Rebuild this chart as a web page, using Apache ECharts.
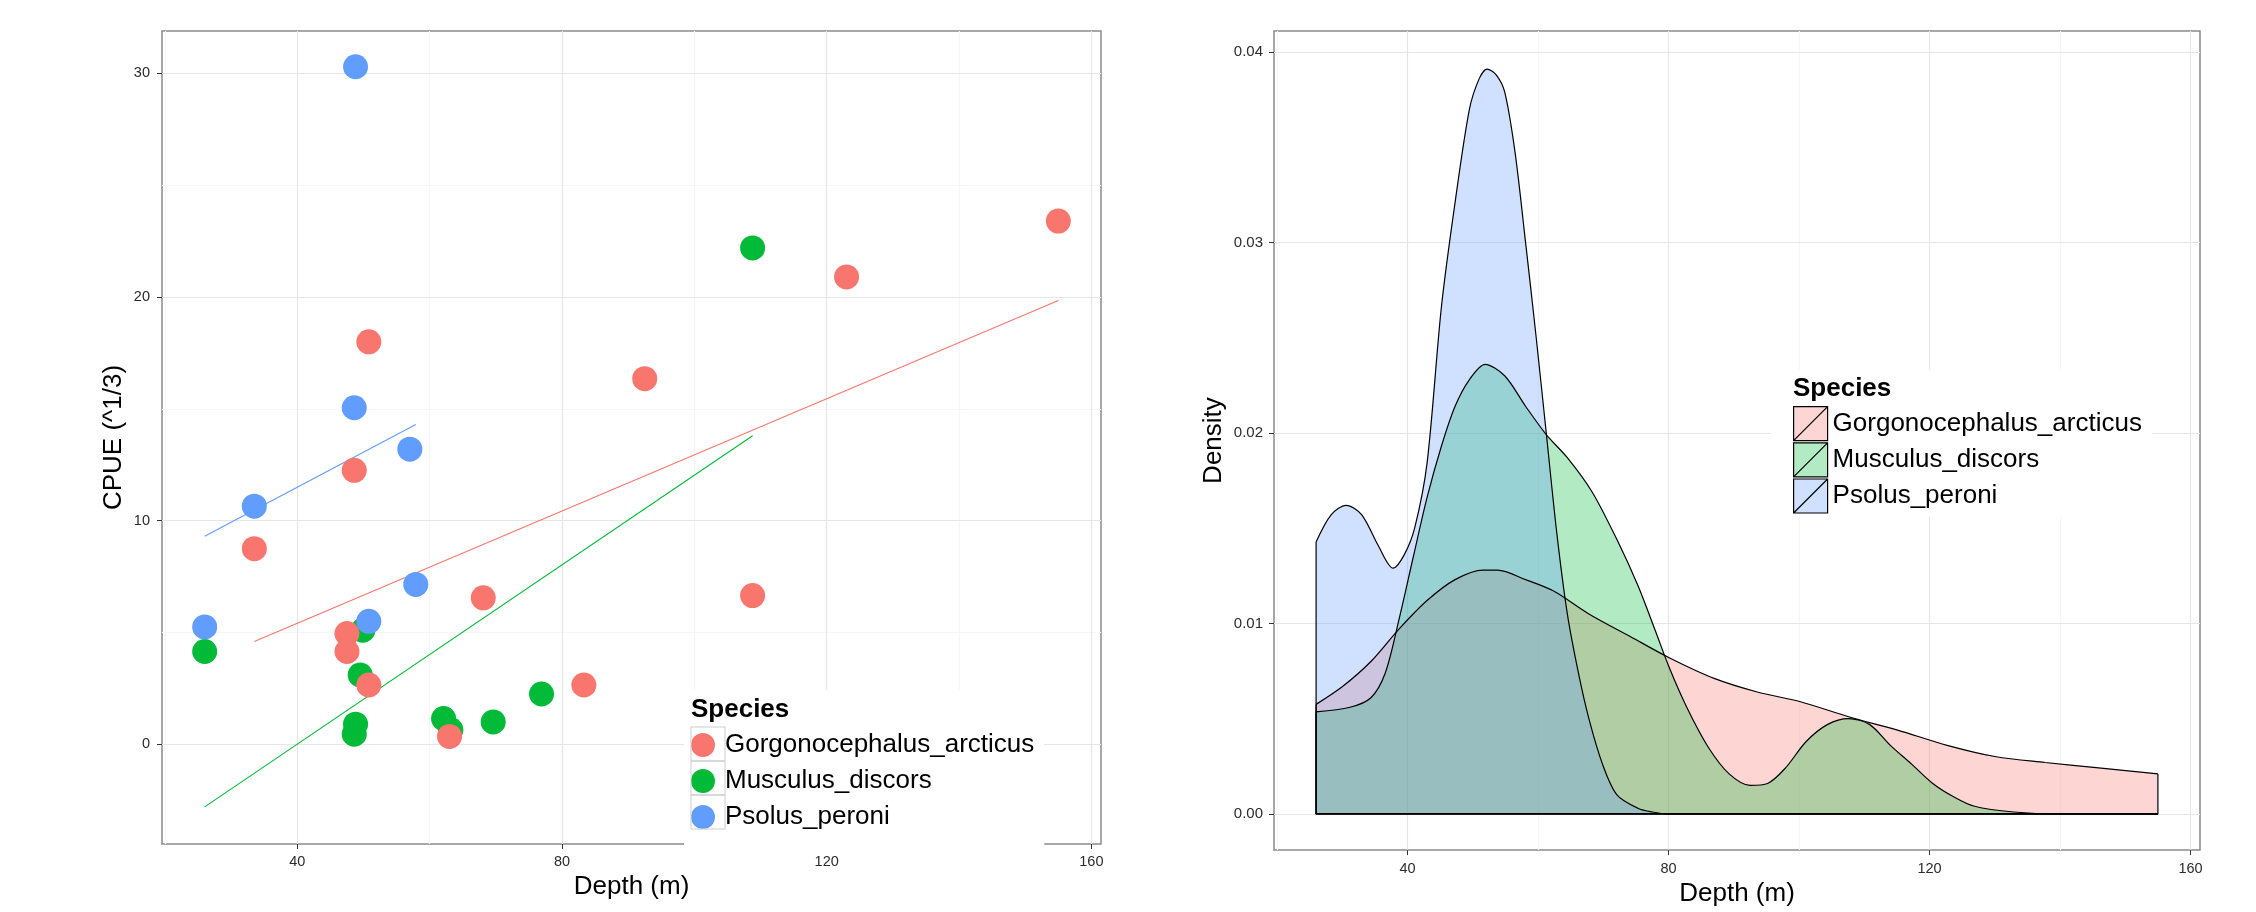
<!DOCTYPE html>
<html>
<head>
<meta charset="utf-8">
<script src="https://cdn.jsdelivr.net/npm/echarts@6/dist/echarts.min.js"></script>
<style>html,body{margin:0;padding:0;background:#fff;}#c{width:2256px;height:912px;}</style>
</head>
<body>
<div id="c"></div>
<script>
// ---------- data ----------
const species = ['Gorgonocephalus_arcticus', 'Musculus_discors', 'Psolus_peroni'];
const colors = ['#F8766D', '#00BA38', '#619CFF'];
const fills = ['rgba(248,118,109,0.3)', 'rgba(0,186,56,0.3)', 'rgba(97,156,255,0.3)'];

const depthTicks = [40, 80, 120, 160];
const depthMinor = [20, 60, 100, 140];
const cpueTicks = [0, 10, 20, 30];
const cpueMinor = [5, 15, 25];
const densityTicks = [0, 0.01, 0.02, 0.03, 0.04];
const densityMinor = [0.005, 0.015, 0.025, 0.035];

// scatter: [depth, CPUE^(1/3)]
const gorgPoints = [[155, 23.4], [123.0, 20.9], [50.8, 18.0], [92.5, 16.35], [48.6, 12.25], [33.5, 8.75],
  [68.1, 6.55], [108.8, 6.65], [47.5, 4.95], [47.5, 4.15], [50.8, 2.65], [83.3, 2.65], [63.0, 0.35]];
const muscPoints = [[108.8, 22.2], [26, 4.15], [49.9, 5.1], [49.5, 3.1], [48.8, 0.9], [48.6, 0.45],
  [62.1, 1.15], [63.2, 0.65], [69.6, 1.0], [76.9, 2.25]];
const psolPoints = [[48.8, 30.3], [48.6, 15.05], [57.0, 13.2], [33.5, 10.65], [57.9, 7.15], [26, 5.25], [50.8, 5.5]];

// linear fits (end points)
const gorgFit = [[33.5, 4.6], [155, 19.85]];
const muscFit = [[26, -2.8], [108.8, 13.8]];
const psolFit = [[26, 9.3], [57.9, 14.3]];

// density curves: [depth, density]
const gorgDensity = [[26, 0.00575], [30.1, 0.0067], [34.4, 0.0080], [38.7, 0.0097], [43.0, 0.0112],
  [47.3, 0.0123], [51.6, 0.0128], [53.8, 0.0128], [58.1, 0.0123], [62.4, 0.0117], [67.8, 0.0105],
  [74.2, 0.0093], [80.1, 0.0082], [87.1, 0.0071], [93.6, 0.0064], [100.1, 0.0059], [107.6, 0.0051],
  [115.1, 0.0044], [122.7, 0.0036], [130.2, 0.0030], [137.7, 0.0027], [146.3, 0.0024], [155, 0.0021]];
const muscDensity = [[26, 0.00536], [31.2, 0.0056], [34.4, 0.0061], [36.6, 0.0074], [38.7, 0.0102],
  [40.9, 0.0135], [43.0, 0.0166], [45.2, 0.0193], [47.3, 0.0214], [49.5, 0.0228], [51.9, 0.0236],
  [54.9, 0.0230], [58.1, 0.0214], [61.3, 0.0199], [64.5, 0.0187], [68.3, 0.0169], [72.1, 0.0144],
  [75.3, 0.0120], [78.0, 0.0096], [80.1, 0.0077], [82.8, 0.0056], [86.1, 0.0035], [89.3, 0.0021],
  [92.5, 0.0015], [95.2, 0.0016], [97.9, 0.0024], [101.1, 0.0038], [104.4, 0.0047], [107.6, 0.0050],
  [110.8, 0.0047], [114.0, 0.0036], [117.3, 0.0026], [120.5, 0.0016], [123.7, 0.0009], [126.9, 0.0004],
  [132.9, 0.0001], [140, 0], [155, 0]];
const psolDensity = [[26, 0.01428], [28.3, 0.0157], [30.6, 0.0162], [33.0, 0.0157], [35.5, 0.0141],
  [37.8, 0.0129], [39.5, 0.0136], [41.1, 0.0150], [43.0, 0.0184], [45.2, 0.0266], [47.3, 0.0321],
  [49.5, 0.0370], [51.0, 0.0386], [52.2, 0.0391], [53.6, 0.0388], [54.9, 0.0379], [56.5, 0.0347],
  [58.1, 0.0300], [59.7, 0.0251], [61.3, 0.0199], [62.9, 0.0147], [64.5, 0.0105], [66.2, 0.0074],
  [67.8, 0.0050], [69.9, 0.0026], [72.1, 0.0010], [75.3, 0.0003], [77.5, 0.0001], [80, 0], [155, 0]];

// ---------- chart ----------
const FONT = 'Liberation Sans, Arial, sans-serif';
const chart = echarts.init(document.getElementById('c'), null, {renderer: 'canvas'});

function gridLineSeries(idx, xsMajor, ysMajor, xsMinor, ysMinor) {
  const mk = (xs, ys, color) => ({
    type: 'line', xAxisIndex: idx, yAxisIndex: idx, data: [], silent: true, z: 0,
    markLine: {
      z: 0, silent: true, animation: false, symbol: ['none', 'none'], label: {show: false},
      emphasis: {disabled: true},
      lineStyle: {color: color, width: 1.2, type: 'solid'},
      data: xs.map(v => ({xAxis: v})).concat(ys.map(v => ({yAxis: v})))
    }
  });
  return [mk(xsMinor, ysMinor, '#f6f6f6'), mk(xsMajor, ysMajor, '#e6e6e6')];
}

function axisCommon(ticks, fmt, margin, fs) {
  return {
    axisLine: {show: false, onZero: false},
    splitLine: {show: false},
    axisTick: {show: true, length: 5, inside: false, customValues: ticks, lineStyle: {color: '#333', width: 1}},
    axisLabel: {show: true, customValues: ticks, formatter: fmt, margin: margin, color: '#2b2b2b',
      fontFamily: FONT, fontSize: fs}
  };
}

// polygon outline (vertical edges + baseline) of a density, built from its end points
function densityEdges(d) {
  const first = d[0], last = d[d.length - 1];
  return [[first[0], first[1]], [first[0], 0], [last[0], 0], [last[0], last[1]]];
}

function densitySeries(d, i) {
  return [
    {type: 'line', name: species[i] + ' density', xAxisIndex: 1, yAxisIndex: 1, data: d, z: 2,
      showSymbol: false, smooth: 0.3,
      lineStyle: {color: '#000', width: 1.2}, areaStyle: {color: fills[i], opacity: 1}},
    {type: 'line', name: species[i] + ' edge', xAxisIndex: 1, yAxisIndex: 1, data: densityEdges(d), z: 2,
      showSymbol: false, lineStyle: {color: '#000', width: 1.2}}
  ];
}

const option = {
  animation: false,
  backgroundColor: '#fff',
  grid: [
    {left: 162, top: 31, width: 939, height: 813, show: true, borderColor: '#8a8a8a', borderWidth: 1.5, backgroundColor: 'transparent'},
    {left: 1274, top: 31, width: 926, height: 823, show: true, borderColor: '#8a8a8a', borderWidth: 1.5, backgroundColor: 'transparent'}
  ],
  xAxis: [
    Object.assign({type: 'value', gridIndex: 0, min: 19.55, max: 161.45,
      name: 'Depth (m)', nameLocation: 'middle', nameGap: 30,
      nameTextStyle: {fontFamily: FONT, fontSize: 26, color: '#000'}},
      axisCommon(depthTicks, v => String(v), 10, 14.5)),
    Object.assign({type: 'value', gridIndex: 1, min: 19.55, max: 161.45,
      name: 'Depth (m)', nameLocation: 'middle', nameGap: 30,
      nameTextStyle: {fontFamily: FONT, fontSize: 26, color: '#000'}},
      axisCommon(depthTicks, v => String(v), 11, 14.5))
  ],
  yAxis: [
    Object.assign({type: 'value', gridIndex: 0, min: -4.46, max: 31.9,
      name: 'CPUE (^1/3)', nameLocation: 'middle', nameGap: 35, nameRotate: 90,
      nameTextStyle: {fontFamily: FONT, fontSize: 26, color: '#000'}},
      axisCommon(cpueTicks, v => String(v), 12, 14.5)),
    Object.assign({type: 'value', gridIndex: 1, min: -0.0019, max: 0.0411,
      name: 'Density', nameLocation: 'middle', nameGap: 47, nameRotate: 90,
      nameTextStyle: {fontFamily: FONT, fontSize: 26, color: '#000'}},
      axisCommon(densityTicks, v => Number(v).toFixed(2), 11, 15))
  ],
  title: [
    {text: 'Species', left: 691, top: 697, padding: 0,
      textStyle: {fontFamily: FONT, fontWeight: 'bold', fontSize: 26, color: '#000'}},
    {text: 'Species', left: 1793, top: 376, padding: 0,
      textStyle: {fontFamily: FONT, fontWeight: 'bold', fontSize: 26, color: '#000'}}
  ],
  legend: [
    {left: 684, top: 690, orient: 'vertical', backgroundColor: '#fff',
      padding: [42, 10, 19, 7], itemWidth: 34, itemHeight: 24, itemGap: 10,
      selectedMode: false,
      textStyle: {fontFamily: FONT, fontSize: 26, color: '#000', lineHeight: 24},
      data: species.map((s, i) => ({name: s, icon: 'circle', itemStyle: {color: colors[i], borderWidth: 0}}))},
    {left: 1770, top: 370, orient: 'vertical', backgroundColor: '#fff',
      padding: [36, 10, 3, 23], itemWidth: 34, itemHeight: 34, itemGap: 1,
      selectedMode: false,
      textStyle: {fontFamily: FONT, fontSize: 26, color: '#000'},
      data: species.map((s, i) => ({name: s, icon: 'path://M0,0L34,0L34,34L0,34ZM0,34L34,0',
        itemStyle: {color: fills[i], borderColor: '#000', borderWidth: 1.2}}))}
  ],
  graphic: {
    elements: [0, 1, 2].map(i => ({
      type: 'rect', z: 10, silent: true,
      shape: {x: 691, y: 727 + 34 * i, width: 34, height: 34},
      style: {fill: 'none', stroke: '#cccccc', lineWidth: 1}
    }))
  },
  series: [].concat(
    gridLineSeries(0, depthTicks, cpueTicks, depthMinor, cpueMinor),
    gridLineSeries(1, depthTicks, densityTicks, depthMinor, densityMinor),
    [
      // regression lines (under points)
      {type: 'line', name: 'fit_g', xAxisIndex: 0, yAxisIndex: 0, data: gorgFit, showSymbol: false, z: 1,
        lineStyle: {color: colors[0], width: 1.1}},
      {type: 'line', name: 'fit_m', xAxisIndex: 0, yAxisIndex: 0, data: muscFit, showSymbol: false, z: 1,
        lineStyle: {color: colors[1], width: 1.1}},
      {type: 'line', name: 'fit_p', xAxisIndex: 0, yAxisIndex: 0, data: psolFit, showSymbol: false, z: 1,
        lineStyle: {color: colors[2], width: 1.1}},
      // scatter points
      {type: 'scatter', name: species[1], xAxisIndex: 0, yAxisIndex: 0, data: muscPoints, symbol: 'circle',
        symbolSize: 25, itemStyle: {color: colors[1], opacity: 1}},
      {type: 'scatter', name: species[0], xAxisIndex: 0, yAxisIndex: 0, data: gorgPoints, symbol: 'circle',
        symbolSize: 25, itemStyle: {color: colors[0], opacity: 1}},
      {type: 'scatter', name: species[2], xAxisIndex: 0, yAxisIndex: 0, data: psolPoints, symbol: 'circle',
        symbolSize: 25, itemStyle: {color: colors[2], opacity: 1}}
    ],
    densitySeries(gorgDensity, 0),
    densitySeries(muscDensity, 1),
    densitySeries(psolDensity, 2)
  )
};
chart.setOption(option);
</script>
</body>
</html>
